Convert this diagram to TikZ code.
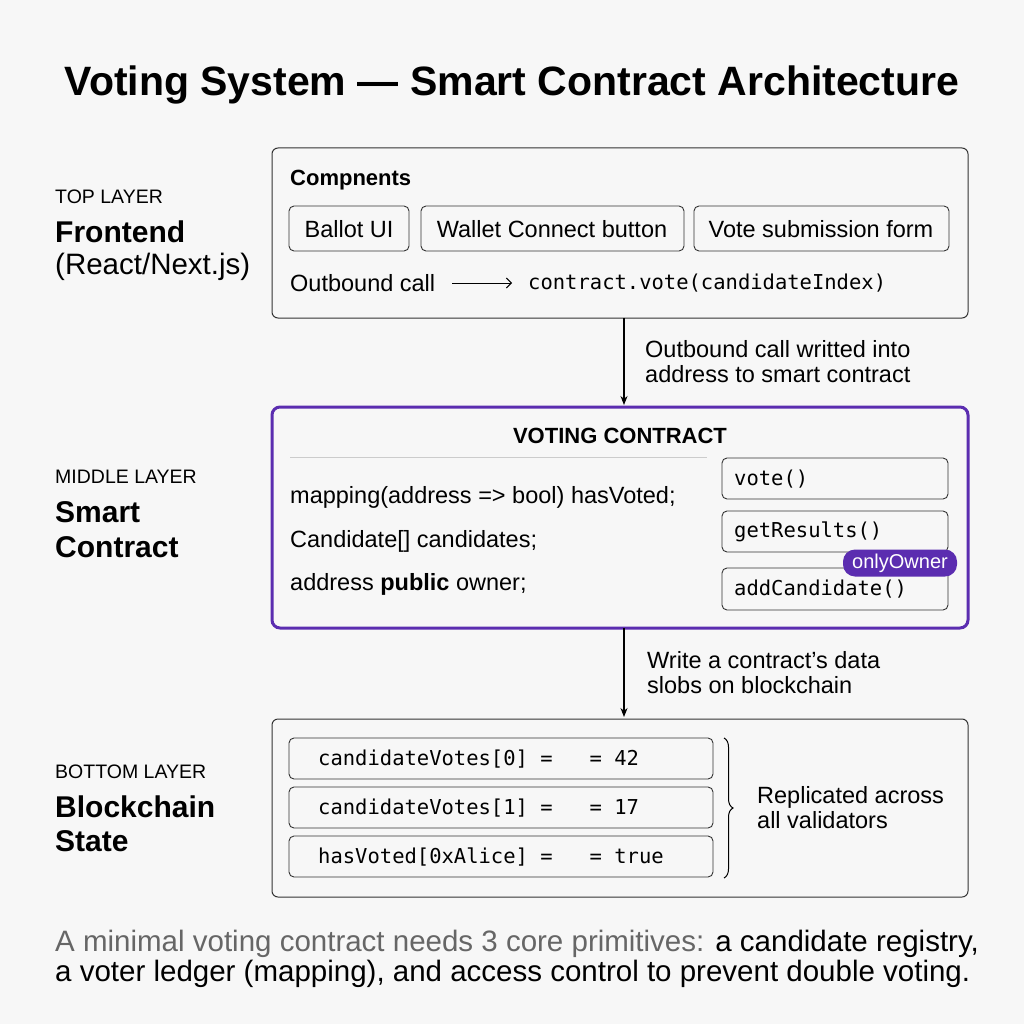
\documentclass[tikz,border=0pt]{standalone}
\usepackage{fontspec}
\setmainfont{Liberation Sans}
\setmonofont{DejaVu Sans Mono}
\usetikzlibrary{arrows.meta,decorations.pathreplacing}
\definecolor{purp}{HTML}{5B2DB0}
\definecolor{bg}{HTML}{F7F7F7}
\tikzset{
 panel/.style={draw=black!80,line width=1pt,rounded corners=6pt,fill=bg},
 pill/.style={draw=black!80,line width=0.9pt,rounded corners=5pt,fill=bg},
 txt/.style={font=\fontsize{23.5}{28}\selectfont,anchor=west,inner sep=0},
 mono/.style={font=\ttfamily\fontsize{20.5}{24}\selectfont,anchor=west,inner sep=0},
 small/.style={font=\fontsize{19.5}{22}\selectfont,anchor=west,inner sep=0},
 big/.style={font=\bfseries\fontsize{30}{34}\selectfont,anchor=west,inner sep=0},
 arr/.style={-{Stealth[length=9pt,width=7pt]},line width=1.1pt},
}
\begin{document}
\begin{tikzpicture}[x=1pt,y=-1pt]
\fill[bg] (0,0) rectangle (1024,1024);
\useasboundingbox (0,0) rectangle (1024,1024);
\node[font=\bfseries\fontsize{41}{46}\selectfont] (title) at (512,85) {Voting System --- Smart Contract Architecture};
% left labels
\node[small] (l1) at (55,197) {TOP LAYER};
\node[big] (l2) at (55,232) {Frontend};
\node[txt,font=\fontsize{29.5}{32}\selectfont] (l3) at (55,267) {(React/Next.js)};
\node[small] (m1) at (55,477) {MIDDLE LAYER};
\node[big] (m2) at (55,512) {Smart};
\node[big] (m3) at (55,547) {Contract};
\node[small] (b1) at (55,772) {BOTTOM LAYER};
\node[big] (b2) at (55,807) {Blockchain};
\node[big] (b3) at (55,841) {State};
% frontend
\draw[panel] (272,148) rectangle (968,318);
\coordinate (fbot) at (624,318);
\node[txt,font=\bfseries\fontsize{22}{26}\selectfont] (comp) at (290,180) {Compnents};
\draw[pill] (289,206) rectangle (409,251); \node[txt,anchor=center] (bu) at (349,229) {Ballot UI};
\draw[pill] (421,206) rectangle (684,251); \node[txt,anchor=center] (wc) at (552,229) {Wallet Connect button};
\draw[pill] (694,206) rectangle (949,251); \node[txt,anchor=center] (vs) at (821,229) {Vote submission form};
\node[txt] (oc) at (290,283) {Outbound call};
\node[mono] (cv) at (528,283) {contract.vote(candidateIndex)};
\draw[-{Straight Barb[length=5pt]},line width=1pt] (452,283) -- (512,283);
% arrow 1
\coordinate (ctop) at (624,405);
\draw[arr] (fbot) -- (ctop);
\node[txt,align=left,font=\fontsize{23.5}{25}\selectfont] (a1) at (645,362) {Outbound call writted into\\address to smart contract};
% contract
\draw[draw=purp,line width=3pt,rounded corners=8pt,fill=bg] (272,407) rectangle (968,628);
\node[font=\bfseries\fontsize{22}{26}\selectfont] (vc) at (620,436) {VOTING CONTRACT};
\draw[black!20,line width=1pt] (290,457) -- (707,457);
\node[txt] (s1) at (290,497) {mapping(address => bool) hasVoted;};
\node[txt] (s2) at (290,541) {Candidate[] candidates;};
\node[txt] (s3) at (290,584) {address \textbf{public} owner;};
\draw[pill] (722,458) rectangle (948,499); \node[mono] (f1) at (734,479) {vote()};
\draw[pill] (722,511) rectangle (948,552); \node[mono] (f2) at (734,532) {getResults()};
\draw[pill] (722,568) rectangle (948,610); \node[mono] (f3) at (734,589) {addCandidate()};
\node[fill=purp,text=white,rounded corners=12pt,minimum width=114pt,minimum height=27pt,inner sep=0,font=\fontsize{20}{22}\selectfont] (oo) at (900,563) {onlyOwner};
% arrow 2
\coordinate (cbot) at (624,628);
\coordinate (btop) at (624,717);
\draw[arr] (cbot) -- (btop);
\node[txt,align=left,font=\fontsize{23.5}{25}\selectfont] (a2) at (647,673) {Write a contract's data\\slobs on blockchain};
% blockchain
\draw[panel] (272,719) rectangle (968,897);
\draw[pill] (289,738) rectangle (713,779); \node[mono] (r1) at (318,759) {candidateVotes[0]~=~~~=~42};
\draw[pill] (289,787) rectangle (713,828); \node[mono] (r2) at (318,808) {candidateVotes[1]~=~~~=~17};
\draw[pill] (289,836) rectangle (713,877); \node[mono] (r3) at (318,857) {hasVoted[0xAlice]~=~~~=~true};
\draw[decorate,decoration={brace,amplitude=9pt},line width=1pt] (724,738) -- (724,878);
\node[txt,align=left,font=\fontsize{23.5}{25}\selectfont] (rep) at (757,808) {Replicated across\\all validators};
% footer
\node[txt,font=\fontsize{29.5}{30}\selectfont,align=left] (foot) at (55,959) {\textcolor{black!60}{A minimal voting contract needs 3 core primitives:} a candidate registry,\\a voter ledger (mapping), and access control to prevent double voting.};
\end{tikzpicture}
\end{document}
